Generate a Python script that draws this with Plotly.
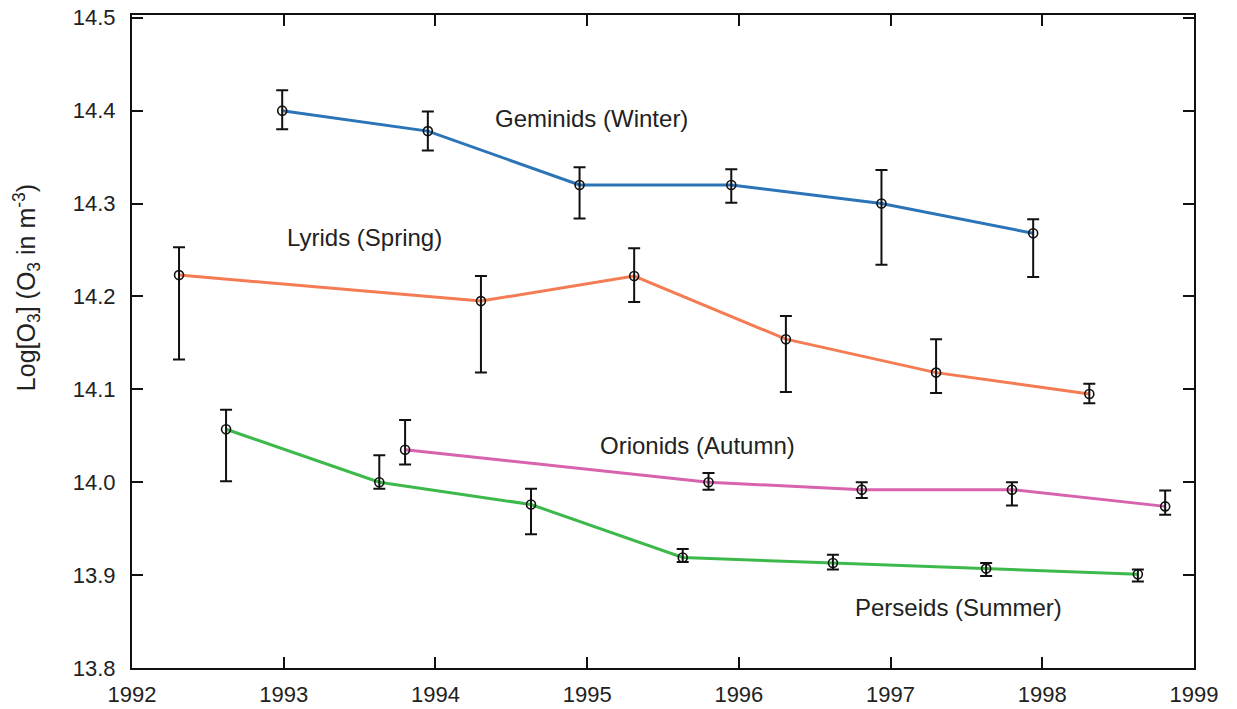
import plotly.graph_objects as go

# Geminids (Winter)
gem_x = [1992.99, 1993.95, 1994.95, 1995.95, 1996.94, 1997.94]
gem_y = [14.400, 14.378, 14.320, 14.320, 14.300, 14.268]
gem_up = [0.022, 0.021, 0.019, 0.017, 0.036, 0.015]
gem_dn = [0.020, 0.021, 0.036, 0.019, 0.066, 0.047]

# Lyrids (Spring)
lyr_x = [1992.31, 1994.30, 1995.31, 1996.31, 1997.30, 1998.31]
lyr_y = [14.223, 14.195, 14.222, 14.154, 14.118, 14.095]
lyr_up = [0.030, 0.027, 0.030, 0.025, 0.036, 0.011]
lyr_dn = [0.091, 0.077, 0.028, 0.057, 0.022, 0.010]

# Orionids (Autumn)
ori_x = [1993.80, 1995.80, 1996.81, 1997.80, 1998.81]
ori_y = [14.035, 14.000, 13.992, 13.992, 13.974]
ori_up = [0.032, 0.010, 0.008, 0.008, 0.017]
ori_dn = [0.016, 0.008, 0.009, 0.017, 0.009]

# Perseids (Summer)
per_x = [1992.62, 1993.63, 1994.63, 1995.63, 1996.62, 1997.63, 1998.63]
per_y = [14.057, 14.000, 13.976, 13.919, 13.913, 13.907, 13.901]
per_up = [0.021, 0.029, 0.017, 0.009, 0.009, 0.006, 0.005]
per_dn = [0.056, 0.007, 0.032, 0.005, 0.007, 0.008, 0.008]

labels = ["Geminids (Winter)", "Lyrids (Spring)", "Orionids (Autumn)", "Perseids (Summer)"]
label_x = [1995.03, 1993.53, 1995.73, 1997.45]
label_y = [14.392, 14.263, 14.040, 13.865]

x_ticks = [1992, 1993, 1994, 1995, 1996, 1997, 1998, 1999]
y_ticks = [13.8, 13.9, 14.0, 14.1, 14.2, 14.3, 14.4, 14.5]
y_title = "Log[O<sub>3</sub>] (O<sub>3</sub> in m<sup>-3</sup>)"

series = [
    (gem_x, gem_y, gem_up, gem_dn, "#2b74b8"),
    (lyr_x, lyr_y, lyr_up, lyr_dn, "#f47b52"),
    (ori_x, ori_y, ori_up, ori_dn, "#d862ac"),
    (per_x, per_y, per_up, per_dn, "#3db94c"),
]

FONT = "Liberation Sans, Arial"

fig = go.Figure()
for (xs, ys, up, dn, col), name in zip(series, labels):
    fig.add_trace(go.Scatter(
        x=xs, y=ys, mode="lines", name=name,
        line=dict(color=col, width=3), showlegend=False))
for (xs, ys, up, dn, col), name in zip(series, labels):
    fig.add_trace(go.Scatter(
        x=xs, y=ys, mode="markers", name=name,
        marker=dict(symbol="circle-open", size=9, color="#111",
                    line=dict(width=1.6, color="#111")),
        error_y=dict(type="data", symmetric=False, array=up, arrayminus=dn,
                     color="#111", thickness=2, width=6),
        showlegend=False))

for t, xx, yy in zip(labels, label_x, label_y):
    fig.add_annotation(x=xx, y=yy, text=t, showarrow=False,
                       font=dict(size=24, color="#222", family=FONT),
                       xanchor="center", yanchor="middle")

# y-axis title placed as rotated text
fig.add_annotation(x=-0.099, y=0.583, xref="paper", yref="paper", text=y_title,
                   textangle=-90, showarrow=False, xanchor="center", yanchor="middle",
                   font=dict(size=25, color="#222", family=FONT))

axis_common = dict(showline=True, linecolor="#111", linewidth=2, mirror="ticks",
                   ticks="inside", ticklen=11, tickwidth=2, tickcolor="#111",
                   showgrid=False, zeroline=False, automargin=False,
                   tickfont=dict(size=22, color="#222", family=FONT))

fig.update_xaxes(range=[1992, 1999], tickvals=x_ticks,
                 ticktext=[str(v) for v in x_ticks], ticklabelstandoff=6,
                 **axis_common)
fig.update_yaxes(range=[13.8, 14.503], tickvals=y_ticks,
                 ticktext=[f"{v:.1f}" for v in y_ticks], ticklabelstandoff=10,
                 **axis_common)

fig.update_layout(width=1237, height=709, margin=dict(l=132, r=43, t=15, b=41),
                  plot_bgcolor="white", paper_bgcolor="white")
fig.write_html("out.html")
